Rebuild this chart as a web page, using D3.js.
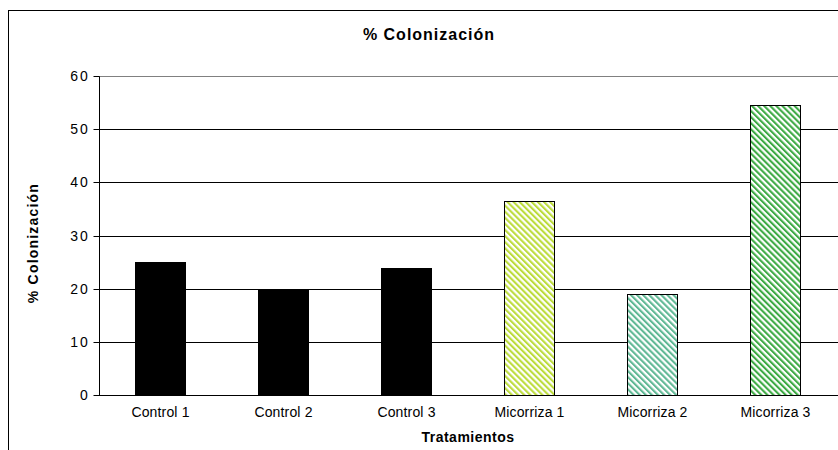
<!DOCTYPE html>
<html><head><meta charset="utf-8">
<script src="https://cdn.jsdelivr.net/npm/d3@7"></script>
<style>body{margin:0;background:#fff}svg{display:block}text{font-family:"Liberation Sans",Arial,sans-serif;fill:#000}</style>
</head><body><svg id="c" width="838" height="450"></svg>
<script>
const categories = ["Control 1","Control 2","Control 3","Micorriza 1","Micorriza 2","Micorriza 3"];
const values = [25, 20, 23.9, 36.5, 19, 54.5];
const yTicks = [0,10,20,30,40,50,60];
const fills = ["#000","#000","#000","url(#h1)","url(#h2)","url(#h3)"];
const hatchColors = {h1:"#bcdc3c", h2:"#5fb894", h3:"#3daa44"};

const svg = d3.select("#c");
const defs = svg.append("defs");
Object.entries(hatchColors).forEach(([id,c])=>{
  const p = defs.append("pattern").attr("id",id).attr("patternUnits","userSpaceOnUse")
    .attr("width",4.3).attr("height",4.3).attr("patternTransform","rotate(-45)");
  p.append("rect").attr("width",4.3).attr("height",4.3).attr("fill","#fff");
  p.append("rect").attr("width",2.1).attr("height",4.3).attr("fill",c);
});

svg.append("rect").attr("x",8.5).attr("y",10.5).attr("width",900).attr("height",500)
  .attr("fill","#fff").attr("stroke","#000");

const x = d3.scaleBand().domain(categories).range([99,837]).paddingInner(0.593).paddingOuter(0.2965);
const y = d3.scaleLinear().domain([0,60]).range([395,76]);

// gridlines
svg.append("g").selectAll("line").data(yTicks.filter(t=>t>0)).join("line")
  .attr("x1",99).attr("x2",838).attr("y1",d=>Math.round(y(d))+0.5).attr("y2",d=>Math.round(y(d))+0.5)
  .attr("stroke",d=>d===60?"#808080":"#000");

// bars
svg.append("g").selectAll("rect").data(values).join("rect")
  .attr("x",(d,i)=>Math.round(x(categories[i]))+0.5)
  .attr("width",Math.round(x.bandwidth()))
  .attr("y",d=>Math.round(y(d))+0.5)
  .attr("height",d=>Math.round(y(0))-Math.round(y(d)))
  .attr("fill",(d,i)=>fills[i]).attr("stroke","#000");

// y axis
const ya = svg.append("g").attr("transform","translate(99.5,0.5)")
  .call(d3.axisLeft(y).tickValues(yTicks).tickSize(6).tickPadding(4).tickFormat(d3.format("d")));
ya.select(".domain").attr("d","M0,"+Math.round(y(60))+"V"+Math.round(y(0)));
ya.selectAll("text").style("font-size","14px").style("letter-spacing","1.8px").attr("font-family",null);
ya.selectAll(".tick line").attr("stroke","#000");
ya.selectAll(".tick").attr("transform",d=>"translate(0,"+Math.round(y(d))+")");

// x axis
const xa = svg.append("g").attr("transform","translate(0,"+(Math.round(y(0))+0.5)+")")
  .call(d3.axisBottom(x).tickSize(0).tickPadding(12));
xa.select(".domain").attr("d","M99,0H838");
xa.selectAll("text").style("font-size","14px").style("letter-spacing","0.15px").attr("font-family",null);

svg.append("text").attr("x",429).attr("y",40).attr("text-anchor","middle")
  .style("font-size","16px").style("font-weight","bold").style("letter-spacing","1px").text("% Colonización");
svg.append("text").attr("transform","translate(38,243) rotate(-90)").attr("text-anchor","middle")
  .style("font-size","14px").style("font-weight","bold").style("letter-spacing","1.2px").text("% Colonización");
svg.append("text").attr("x",468).attr("y",442).attr("text-anchor","middle")
  .style("font-size","14px").style("font-weight","bold").style("letter-spacing","0.5px").text("Tratamientos");
</script></body></html>
